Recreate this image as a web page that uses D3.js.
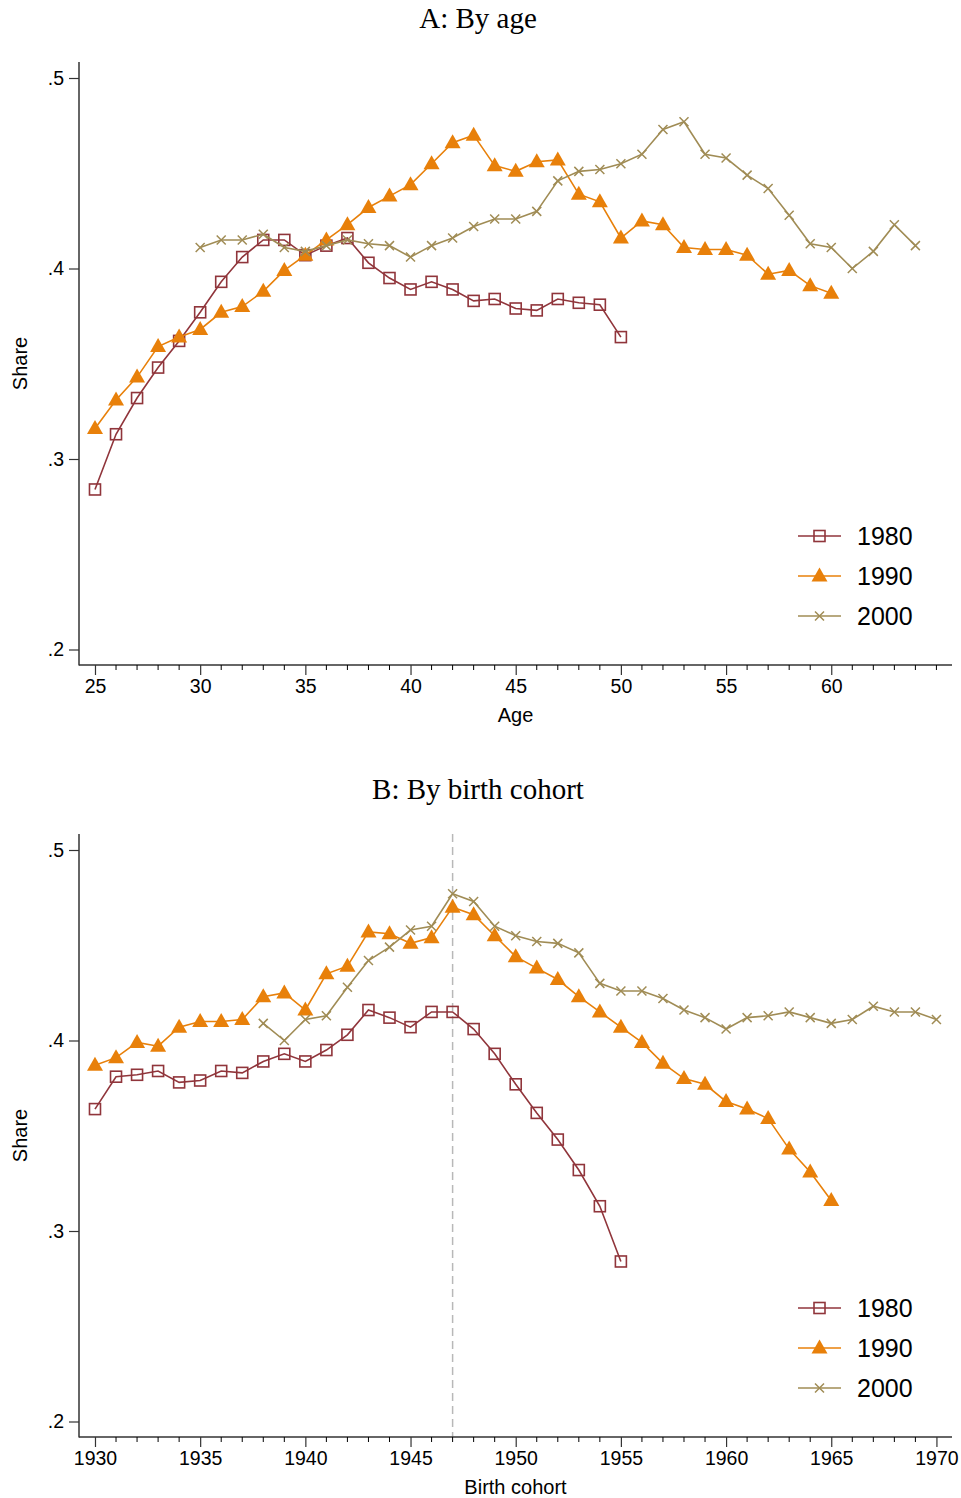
<!DOCTYPE html>
<html>
<head>
<meta charset="utf-8">
<script src="https://cdn.jsdelivr.net/npm/d3@7"></script>
<style>
  body { margin: 0; background: #fff; }
  svg { display: block; }
  text { font-family: "Liberation Sans", Arial, sans-serif; fill: #000; }
  .titulo { font-family: "Liberation Serif", "Times New Roman", serif; font-size: 29px; }
</style>
</head>
<body>
<svg id="grafico" width="961" height="1498"></svg>
<script>
// anos do censo e cores de cada série
const ANOS = [1980, 1990, 2000];
const CORES = ['#90353b', '#e8800a', '#a08c55'];
const MARCADORES = ['quadrado', 'triangulo', 'xis'];

// idades observadas em cada censo
const idades1980 = d3.range(25, 51);
const idades1990 = d3.range(25, 61);
const idades2000 = d3.range(30, 65);

// participação (share) por idade
const share1980 = [0.284, 0.313, 0.332, 0.348, 0.362, 0.377, 0.393, 0.406, 0.415, 0.415,
  0.407, 0.412, 0.416, 0.403, 0.395, 0.389, 0.393, 0.389, 0.383, 0.384,
  0.379, 0.378, 0.384, 0.382, 0.381, 0.364];
const share1990 = [0.316, 0.331, 0.343, 0.359, 0.364, 0.368, 0.377, 0.380, 0.388, 0.399,
  0.407, 0.415, 0.423, 0.432, 0.438, 0.444, 0.455, 0.466, 0.470, 0.454,
  0.451, 0.456, 0.457, 0.439, 0.435, 0.416, 0.425, 0.423, 0.411, 0.410,
  0.410, 0.407, 0.397, 0.399, 0.391, 0.387];
const share2000 = [0.411, 0.415, 0.415, 0.418, 0.411, 0.409, 0.412, 0.415, 0.413, 0.412,
  0.406, 0.412, 0.416, 0.422, 0.426, 0.426, 0.430, 0.446, 0.451, 0.452,
  0.455, 0.460, 0.473, 0.477, 0.460, 0.458, 0.449, 0.442, 0.428, 0.413,
  0.411, 0.400, 0.409, 0.423, 0.412];

// ticks
const TICKS_Y = [0.2, 0.3, 0.4, 0.5];
const TICKS_IDADE = [25, 30, 35, 40, 45, 50, 55, 60];
const TICKS_COORTE = [1930, 1935, 1940, 1945, 1950, 1955, 1960, 1965, 1970];
const COORTE_MARCADA = 1947;
// no painel B a série de 2000 só aparece a partir desta coorte
const COORTE_MINIMA_2000 = 1938;

const series = [
  { ano: ANOS[0], idades: idades1980, share: share1980 },
  { ano: ANOS[1], idades: idades1990, share: share1990 },
  { ano: ANOS[2], idades: idades2000, share: share2000 }
].map((s, k) => ({
  ano: s.ano,
  cor: CORES[k],
  marcador: MARCADORES[k],
  pontos: s.idades.map((a, i) => ({ idade: a, coorte: s.ano - a, v: s.share[i] }))
}));

const $svg = d3.select('#grafico');

// dimensões
const ESQ = 79, DIR = 952;
const ALTURA_PLOT = 603;

function desenhaMarcador(g, tipo, cor) {
  if (tipo === 'quadrado') {
    g.append('rect').attr('x', -5.5).attr('y', -5.5).attr('width', 11).attr('height', 11)
      .attr('fill', 'none').attr('stroke', cor).attr('stroke-width', 1.6);
  } else if (tipo === 'triangulo') {
    g.append('path').attr('d', 'M0,-8.5L8,5.5L-8,5.5Z').attr('fill', cor);
  } else {
    g.append('path').attr('d', 'M-4.5,-4.5L4.5,4.5M-4.5,4.5L4.5,-4.5')
      .attr('stroke', cor).attr('stroke-width', 1.5).attr('fill', 'none');
  }
}

function painel(opts) {
  const topo = opts.topo;
  const base = topo + ALTURA_PLOT;
  const g = $svg.append('g');

  const x = d3.scaleLinear().domain(opts.dominioX).range([ESQ, DIR]);
  const y = d3.scaleLinear().domain([0.2, 0.5]).range([base - 15.5, topo + 16]);

  // título
  g.append('text').attr('class', 'titulo')
    .attr('x', 478).attr('y', opts.yTitulo)
    .attr('text-anchor', 'middle').text(opts.titulo);

  // linha tracejada
  if (opts.marca) {
    g.append('line')
      .attr('x1', x(opts.marca)).attr('x2', x(opts.marca))
      .attr('y1', topo).attr('y2', base)
      .attr('stroke', '#b8b8b8').attr('stroke-width', 1.5)
      .attr('stroke-dasharray', '8,5');
  }

  // eixo y
  const eixoY = d3.axisLeft(y).tickValues(TICKS_Y).tickSize(10).tickPadding(5)
    .tickFormat(d => d3.format('.1f')(d).replace(/^0/, ''));
  const $ey = g.append('g').attr('transform', `translate(${ESQ},0)`).call(eixoY);
  $ey.select('.domain').attr('d', `M0,${topo}V${base + 0.5}`);

  // eixo x
  const eixoX = d3.axisBottom(x).tickValues(opts.ticksX).tickSize(10).tickPadding(4)
    .tickFormat(d3.format('d'));
  const $ex = g.append('g').attr('transform', `translate(0,${base})`).call(eixoX);
  $ex.select('.domain').attr('d', `M${ESQ},0H${DIR}`);

  // ticks menores a cada ano
  const [d0, d1] = opts.dominioX;
  const menores = d3.range(Math.ceil(d0), Math.floor(d1) + 1).filter(v => !opts.ticksX.includes(v));
  $ex.selectAll('.menor').data(menores).enter().append('line')
    .attr('class', 'menor')
    .attr('x1', d => x(d)).attr('x2', d => x(d))
    .attr('y1', 0).attr('y2', 5)
    .attr('stroke', '#000').attr('stroke-width', 1);

  [$ey, $ex].forEach($e => {
    $e.selectAll('text').style('font-size', '19.5px').style('font-family', '"Liberation Sans", Arial, sans-serif');
    $e.select('.domain').attr('stroke', '#333').attr('stroke-width', 1.5);
    $e.selectAll('.tick line').attr('stroke', '#333').attr('stroke-width', 1.2);
  });

  // rótulos dos eixos
  g.append('text').attr('transform', `translate(27,${(topo + base) / 2}) rotate(-90)`)
    .attr('text-anchor', 'middle').style('font-size', '20px').text('Share');
  g.append('text').attr('x', (ESQ + DIR) / 2).attr('y', base + 57)
    .attr('text-anchor', 'middle').style('font-size', '20px').text(opts.rotuloX);

  // séries
  const linha = d3.line().x(d => x(d[opts.campo])).y(d => y(d.v));
  series.forEach(s => {
    const pts = s.pontos
      .filter(d => opts.filtro ? opts.filtro(s, d) : true)
      .sort((a, b) => a[opts.campo] - b[opts.campo]);
    g.append('path').datum(pts)
      .attr('d', linha).attr('fill', 'none')
      .attr('stroke', s.cor).attr('stroke-width', 1.6);
    g.append('g').selectAll('g').data(pts).enter().append('g')
      .attr('transform', d => `translate(${x(d[opts.campo])},${y(d.v)})`)
      .each(function() { desenhaMarcador(d3.select(this), s.marcador, s.cor); });
  });

  // legenda
  const $leg = g.append('g').attr('transform', `translate(798,${base - 129})`);
  series.forEach((s, i) => {
    const $l = $leg.append('g').attr('transform', `translate(0,${i * 40})`);
    $l.append('line').attr('x1', 0).attr('x2', 43).attr('y1', 0).attr('y2', 0)
      .attr('stroke', s.cor).attr('stroke-width', 1.6);
    desenhaMarcador($l.append('g').attr('transform', 'translate(21.5,0)'), s.marcador, s.cor);
    $l.append('text').attr('x', 59).attr('y', 0).attr('dy', '0.35em')
      .style('font-size', '25px').text(s.ano);
  });
}

painel({
  topo: 62, yTitulo: 28, titulo: 'A: By age',
  dominioX: [24.24, 65.74], ticksX: TICKS_IDADE, campo: 'idade', rotuloX: 'Age'
});
painel({
  topo: 834, yTitulo: 799, titulo: 'B: By birth cohort',
  dominioX: [1929.24, 1970.74], ticksX: TICKS_COORTE, campo: 'coorte', rotuloX: 'Birth cohort',
  marca: COORTE_MARCADA,
  filtro: (s, d) => s.ano !== 2000 || d.coorte >= COORTE_MINIMA_2000
});
</script>
</body>
</html>
